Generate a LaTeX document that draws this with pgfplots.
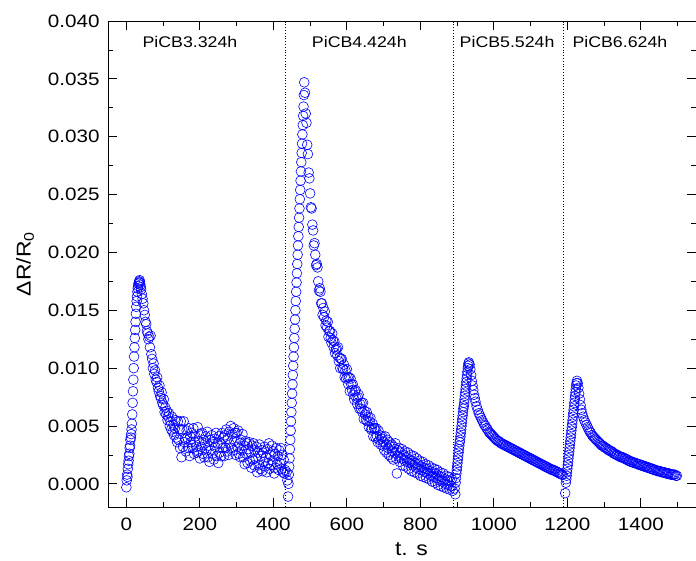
\documentclass[border=0pt]{standalone}
\usepackage{fontspec}
\setmainfont{Liberation Sans}[FakeStretch=1.15]
\usepackage{pgfplots}
\pgfplotsset{compat=1.18}
\usetikzlibrary{calc}
\begin{document}
\begin{tikzpicture}
\begin{axis}[
 scale only axis, width=588bp, height=486bp,
 xmin=-50, xmax=1550, ymin=-0.002, ymax=0.040,
 xtick={0,200,400,600,800,1000,1200,1400},
 minor xtick={100,300,500,700,900,1100,1300,1500},
 ytick={0,0.005,0.010,0.015,0.020,0.025,0.030,0.035,0.040},
 minor ytick={0.0025,0.0075,0.0125,0.0175,0.0225,0.0275,0.0325,0.0375},
 tick align=inside,
 major tick length=9bp, minor tick length=5bp,
 tick style={black, line width=0.8bp},
 axis line style={line width=0.8bp},
 scaled y ticks=false,
 /pgf/number format/assume math mode=true,
 /pgf/number format/1000 sep={},
 yticklabel style={/pgf/number format/fixed, /pgf/number format/fixed zerofill, /pgf/number format/precision=3, xshift=-5bp},
 xticklabel style={yshift=-7bp},
 ticklabel style={font=\fontsize{18}{20}\selectfont},
 xlabel={t. s},
 ylabel={ΔR/R\textsubscript{0}},
 xlabel style={at={(axis description cs:0.516,-0.100)}, anchor=base, font=\fontsize{20}{24}\selectfont},
 ylabel style={at={(axis description cs:-0.141,0.5)}, anchor=center, font=\fontsize{20}{24}\selectfont},
 mystyle/.style={only marks, mark=o, color=blue, mark size=4.9bp, mark options={line width=0.6bp}},
]
\draw[black, line width=0.9bp, dash pattern=on 0.9bp off 1.9bp] (axis cs:433,-0.002) -- (axis cs:433,0.040);
\draw[black, line width=0.9bp, dash pattern=on 0.9bp off 1.9bp] (axis cs:890,-0.002) -- (axis cs:890,0.040);
\draw[black, line width=0.9bp, dash pattern=on 0.9bp off 1.9bp] (axis cs:1189,-0.002) -- (axis cs:1189,0.040);

\addplot[mystyle] table[row sep=\\] {
x y\\
0 -0.0003\\ 1 0.0003\\ 2 0.0008\\ 3 0.0006\\ 4 0.0013\\ 5 0.0017\\ 6 0.0020\\ 7 0.0024\\ 8 0.0026\\ 9 0.0031\\
10 0.0033\\ 11 0.0038\\ 12 0.0040\\ 13 0.0043\\ 14 0.0047\\ 15 0.0052\\ 16 0.0060\\ 17 0.0070\\ 18 0.0080\\ 19 0.0090\\
20 0.0100\\ 21 0.0110\\ 22 0.0118\\ 23 0.0126\\ 24 0.0133\\ 25 0.0140\\ 26 0.0147\\ 27 0.0153\\ 28 0.0158\\ 29 0.0162\\
30 0.0166\\ 31 0.0169\\ 32 0.0171\\ 33 0.0173\\ 34 0.0174\\ 35 0.0175\\ 36 0.0176\\ 37 0.0174\\ 38 0.0172\\ 39 0.0170\\
40 0.0168\\ 42 0.0164\\ 44 0.0160\\ 46 0.0156\\ 48 0.0150\\ 50 0.0146\\ 52 0.0140\\ 54 0.0138\\ 56 0.0132\\ 58 0.0130\\
60 0.0125\\ 62 0.0127\\ 64 0.0118\\ 66 0.0128\\ 68 0.0112\\ 70 0.0108\\ 72 0.0100\\ 74 0.0104\\ 76 0.0095\\ 78 0.0098\\
80 0.0090\\ 82 0.0088\\ 84 0.0092\\ 86 0.0083\\ 88 0.0080\\ 90 0.0085\\ 92 0.0076\\ 94 0.0074\\ 96 0.0079\\ 98 0.0070\\
100 0.0068\\ 102 0.0073\\ 104 0.0062\\ 106 0.0066\\ 108 0.0060\\ 110 0.0063\\ 112 0.0055\\ 114 0.0058\\ 116 0.0061\\ 118 0.0050\\
120 0.0054\\ 122 0.0047\\ 124 0.0058\\ 126 0.0045\\ 128 0.0051\\ 130 0.0042\\ 132 0.0048\\ 134 0.0055\\ 136 0.0040\\ 138 0.0036\\
140 0.0054\\ 142 0.0038\\ 144 0.0047\\ 146 0.0031\\ 148 0.0054\\ 150 0.0023\\ 152 0.0047\\ 154 0.0032\\ 156 0.0054\\ 158 0.0036\\
160 0.0039\\ 162 0.0028\\ 164 0.0046\\ 166 0.0040\\ 168 0.0031\\ 170 0.0048\\ 172 0.0024\\ 174 0.0041\\ 176 0.0036\\ 178 0.0044\\
180 0.0031\\ 182 0.0048\\ 184 0.0026\\ 186 0.0036\\ 188 0.0041\\ 190 0.0032\\ 192 0.0027\\ 194 0.0049\\ 196 0.0028\\ 198 0.0037\\
200 0.0022\\ 202 0.0043\\ 204 0.0032\\ 206 0.0044\\ 208 0.0026\\ 210 0.0038\\ 212 0.0023\\ 214 0.0035\\ 216 0.0041\\ 218 0.0029\\
220 0.0045\\ 222 0.0023\\ 224 0.0033\\ 226 0.0019\\ 228 0.0038\\ 230 0.0029\\ 232 0.0042\\ 234 0.0026\\ 236 0.0036\\ 238 0.0021\\
240 0.0039\\ 242 0.0032\\ 244 0.0044\\ 246 0.0024\\ 248 0.0035\\ 250 0.0018\\ 252 0.0041\\ 254 0.0027\\ 256 0.0035\\ 258 0.0024\\
260 0.0044\\ 262 0.0031\\ 264 0.0040\\ 266 0.0024\\ 268 0.0042\\ 270 0.0031\\ 272 0.0047\\ 274 0.0028\\ 276 0.0039\\ 278 0.0025\\
280 0.0045\\ 282 0.0034\\ 284 0.0050\\ 286 0.0031\\ 288 0.0043\\ 290 0.0029\\ 292 0.0048\\ 294 0.0037\\ 296 0.0044\\ 298 0.0025\\
300 0.0044\\ 302 0.0032\\ 304 0.0046\\ 306 0.0026\\ 308 0.0035\\ 310 0.0023\\ 312 0.0038\\ 314 0.0029\\ 316 0.0043\\ 318 0.0023\\
320 0.0033\\ 322 0.0017\\ 324 0.0037\\ 326 0.0026\\ 328 0.0035\\ 330 0.0018\\ 332 0.0030\\ 334 0.0036\\ 336 0.0020\\ 338 0.0027\\
340 0.0014\\ 342 0.0033\\ 344 0.0021\\ 346 0.0035\\ 348 0.0016\\ 350 0.0029\\ 352 0.0022\\ 354 0.0032\\ 356 0.0010\\ 358 0.0027\\
360 0.0016\\ 362 0.0034\\ 364 0.0013\\ 366 0.0024\\ 368 0.0029\\ 370 0.0011\\ 372 0.0027\\ 374 0.0019\\ 376 0.0032\\ 378 0.0015\\
380 0.0023\\ 382 0.0010\\ 384 0.0030\\ 386 0.0018\\ 388 0.0035\\ 390 0.0013\\ 392 0.0025\\ 394 0.0016\\ 396 0.0033\\ 398 0.0020\\
400 0.0028\\ 402 0.0009\\ 404 0.0026\\ 406 0.0014\\ 408 0.0031\\ 410 0.0017\\ 412 0.0024\\ 414 0.0012\\ 416 0.0029\\ 418 0.0018\\
420 0.0031\\ 422 0.0013\\ 424 0.0025\\ 426 0.0010\\ 428 0.0021\\ 430 0.0009\\ 432 0.0012\\
};

\addplot[mystyle] table[row sep=\\] {
x y\\
436 0.0010\\ 438 0.0003\\ 440 -0.0011\\ 441 0.0000\\ 442 0.0008\\ 443 0.0015\\ 444 0.0022\\ 445 0.0030\\ 446 0.0038\\ 447 0.0046\\
448 0.0054\\ 449 0.0062\\ 450 0.0070\\ 451 0.0078\\ 452 0.0086\\ 453 0.0094\\ 454 0.0102\\ 455 0.0110\\ 456 0.0118\\ 457 0.0126\\
458 0.0134\\ 459 0.0142\\ 460 0.0150\\ 461 0.0158\\ 462 0.0166\\ 463 0.0174\\ 464 0.0182\\ 465 0.0190\\ 466 0.0198\\ 467 0.0206\\
468 0.0214\\ 469 0.0222\\ 470 0.0230\\ 471 0.0238\\ 472 0.0246\\ 473 0.0254\\ 474 0.0262\\ 475 0.0270\\ 476 0.0278\\ 477 0.0286\\
478 0.0294\\ 479 0.0302\\ 480 0.0310\\ 481 0.0318\\ 482 0.0326\\ 483 0.0336\\ 484 0.0347\\
486 0.0338\\ 488 0.0320\\ 490 0.0312\\ 492 0.0293\\ 494 0.0285\\ 496 0.0269\\ 498 0.0264\\ 500 0.0251\\ 502 0.0239\\ 504 0.0238\\
506 0.0224\\ 508 0.0219\\ 510 0.0206\\ 512 0.0208\\ 514 0.0198\\ 516 0.0189\\ 518 0.0190\\ 520 0.0187\\ 522 0.0175\\ 524 0.0167\\
526 0.0169\\ 528 0.0166\\ 530 0.0156\\ 532 0.0156\\ 534 0.0146\\ 536 0.0152\\ 538 0.0144\\ 540 0.0149\\ 542 0.0137\\ 544 0.0141\\
546 0.0135\\ 548 0.0140\\ 550 0.0127\\ 552 0.0132\\ 554 0.0132\\ 556 0.0126\\ 558 0.0122\\ 560 0.0130\\ 562 0.0124\\ 564 0.0118\\
566 0.0123\\ 568 0.0113\\ 570 0.0116\\ 572 0.0117\\ 574 0.0111\\ 576 0.0118\\ 578 0.0106\\ 580 0.0109\\ 582 0.0100\\ 584 0.0108\\
586 0.0108\\ 588 0.0100\\ 590 0.0099\\ 592 0.0103\\ 594 0.0092\\ 596 0.0098\\ 598 0.0091\\ 600 0.0099\\ 602 0.0092\\ 604 0.0086\\
606 0.0092\\ 608 0.0080\\ 610 0.0091\\ 612 0.0086\\ 614 0.0081\\ 616 0.0086\\ 618 0.0077\\ 620 0.0073\\ 622 0.0080\\ 624 0.0081\\
626 0.0074\\ 628 0.0069\\ 630 0.0075\\ 632 0.0077\\ 634 0.0065\\ 636 0.0069\\ 638 0.0065\\ 640 0.0070\\ 642 0.0062\\ 644 0.0070\\
646 0.0056\\ 648 0.0063\\ 650 0.0060\\ 652 0.0055\\ 654 0.0062\\ 656 0.0054\\ 658 0.0058\\ 660 0.0049\\ 662 0.0054\\ 664 0.0057\\
666 0.0047\\ 668 0.0048\\ 670 0.0052\\ 672 0.0041\\ 674 0.0048\\ 676 0.0048\\ 678 0.0040\\ 680 0.0048\\ 682 0.0041\\ 684 0.0036\\
686 0.0046\\ 688 0.0038\\ 690 0.0042\\ 692 0.0034\\ 694 0.0039\\ 696 0.0041\\ 698 0.0033\\ 700 0.0036\\
702 0.0029\\ 704 0.0041\\ 706 0.0034\\ 708 0.0027\\ 710 0.0038\\ 712 0.0031\\ 714 0.0025\\ 716 0.0036\\ 718 0.0033\\ 720 0.0023\\
722 0.0034\\ 724 0.0028\\ 726 0.0021\\ 728 0.0032\\ 730 0.0027\\ 732 0.0035\\ 734 0.0022\\ 736 0.0009\\ 738 0.0029\\ 740 0.0024\\
742 0.0031\\ 744 0.0019\\ 746 0.0027\\ 748 0.0022\\ 750 0.0030\\ 752 0.0016\\ 754 0.0025\\ 756 0.0021\\ 758 0.0028\\ 760 0.0015\\
762 0.0023\\ 764 0.0019\\ 766 0.0027\\ 768 0.0013\\ 770 0.0021\\ 772 0.0018\\ 774 0.0025\\ 776 0.0011\\ 778 0.0020\\ 780 0.0016\\
782 0.0024\\ 784 0.0010\\ 786 0.0018\\ 788 0.0014\\ 790 0.0022\\ 792 0.0009\\ 794 0.0017\\ 796 0.0013\\ 798 0.0020\\ 800 0.0007\\
802 0.0015\\ 804 0.0012\\ 806 0.0019\\ 808 0.0006\\ 810 0.0014\\ 812 0.0010\\ 814 0.0017\\ 816 0.0005\\ 818 0.0013\\ 820 0.0009\\
822 0.0016\\ 824 0.0004\\ 826 0.0011\\ 828 0.0007\\ 830 0.0014\\ 832 0.0002\\ 834 0.0010\\ 836 0.0006\\ 838 0.0013\\ 840 0.0001\\
842 0.0009\\ 844 0.0005\\ 846 0.0012\\ 848 -0.0001\\ 850 0.0007\\ 852 0.0003\\ 854 0.0010\\ 856 -0.0002\\ 858 0.0006\\ 860 0.0002\\
862 0.0009\\ 864 -0.0003\\ 866 0.0004\\ 868 0.0000\\ 870 0.0007\\ 872 -0.0004\\ 874 0.0003\\ 876 -0.0001\\ 878 0.0006\\ 880 -0.0005\\
882 0.0002\\ 884 -0.0002\\ 886 0.0004\\ 888 -0.0006\\
};

\addplot[mystyle] table[row sep=\\] {
x y\\
893 -0.0004\\ 895 -0.0009\\ 896 0.0001\\ 897 0.0005\\ 898 0.0009\\ 899 0.0012\\ 900 0.0015\\ 901 0.0018\\ 902 0.0021\\ 903 0.0024\\
904 0.0027\\ 905 0.0030\\ 906 0.0033\\ 907 0.0036\\ 908 0.0038\\ 909 0.0041\\ 910 0.0044\\ 911 0.0047\\ 912 0.0050\\ 913 0.0053\\
914 0.0056\\ 915 0.0059\\ 916 0.0062\\ 917 0.0065\\ 918 0.0067\\ 919 0.0070\\ 920 0.0073\\ 921 0.0076\\ 922 0.0079\\ 923 0.0082\\
924 0.0085\\ 925 0.0088\\ 926 0.0091\\ 927 0.0094\\ 928 0.0097\\ 929 0.0100\\ 930 0.0102\\ 931 0.0104\\ 932 0.0105\\
934 0.0103\\ 936 0.0099\\ 938 0.0094\\ 940 0.0089\\ 942 0.0085\\ 944 0.0081\\ 946 0.0077\\ 948 0.0074\\ 950 0.0071\\
953 0.0067\\ 956 0.0064\\ 959 0.0061\\ 962 0.0059\\ 965 0.0057\\ 968 0.0055\\ 971 0.0053\\ 974 0.0051\\ 977 0.0050\\ 980 0.0048\\
983 0.0047\\ 986 0.0045\\ 989 0.0044\\ 992 0.0043\\ 995 0.0042\\ 998 0.0041\\ 1001 0.0040\\ 1004 0.0039\\ 1007 0.0038\\ 1010 0.0037\\
1013 0.0037\\ 1016 0.0036\\ 1019 0.0035\\ 1022 0.0035\\ 1025 0.0034\\ 1028 0.0034\\ 1031 0.0033\\ 1034 0.0033\\ 1037 0.0032\\ 1040 0.0032\\
1043 0.0031\\ 1046 0.0031\\ 1049 0.0030\\ 1052 0.0030\\ 1055 0.0029\\ 1058 0.0029\\ 1061 0.0028\\ 1064 0.0028\\ 1067 0.0027\\ 1070 0.0027\\
1073 0.0026\\ 1076 0.0026\\ 1079 0.0025\\ 1082 0.0025\\ 1085 0.0024\\ 1088 0.0024\\ 1091 0.0023\\ 1094 0.0023\\ 1097 0.0022\\ 1100 0.0022\\
1103 0.0021\\ 1106 0.0021\\ 1109 0.0020\\ 1112 0.0020\\ 1115 0.0019\\ 1118 0.0019\\ 1121 0.0018\\ 1124 0.0018\\ 1127 0.0017\\ 1130 0.0017\\
1133 0.0016\\ 1136 0.0016\\ 1139 0.0015\\ 1142 0.0015\\ 1145 0.0014\\ 1148 0.0014\\ 1151 0.0013\\ 1154 0.0013\\ 1157 0.0012\\ 1160 0.0012\\
1163 0.0012\\ 1166 0.0011\\ 1169 0.0011\\ 1172 0.0010\\ 1175 0.0010\\ 1178 0.0009\\ 1181 0.0009\\ 1184 0.0008\\ 1187 0.0008\\
};

\addplot[mystyle] table[row sep=\\] {
x y\\
1194 -0.0008\\ 1196 0.0001\\ 1197 0.0004\\ 1198 0.0007\\ 1199 0.0010\\ 1200 0.0013\\ 1201 0.0016\\ 1202 0.0019\\ 1203 0.0022\\ 1204 0.0025\\
1205 0.0028\\ 1206 0.0031\\ 1207 0.0034\\ 1208 0.0037\\ 1209 0.0040\\ 1210 0.0043\\ 1211 0.0046\\ 1212 0.0049\\ 1213 0.0052\\ 1214 0.0055\\
1215 0.0058\\ 1216 0.0061\\ 1217 0.0064\\ 1218 0.0067\\ 1219 0.0070\\ 1220 0.0073\\ 1221 0.0076\\ 1222 0.0079\\ 1223 0.0082\\ 1224 0.0085\\
1225 0.0087\\ 1226 0.0089\\ 1228 0.0087\\ 1230 0.0083\\ 1232 0.0078\\ 1234 0.0073\\ 1236 0.0068\\ 1238 0.0064\\ 1240 0.0061\\
1243 0.0058\\ 1246 0.0055\\ 1249 0.0053\\ 1252 0.0051\\ 1255 0.0049\\ 1258 0.0047\\ 1261 0.0045\\ 1264 0.0044\\ 1267 0.0042\\ 1270 0.0041\\
1273 0.0040\\ 1276 0.0039\\ 1279 0.0038\\ 1282 0.0037\\ 1285 0.0036\\ 1288 0.0035\\ 1291 0.0034\\ 1294 0.0033\\ 1297 0.0033\\ 1300 0.0032\\
1303 0.0031\\ 1306 0.0031\\ 1309 0.0030\\ 1312 0.0029\\ 1315 0.0029\\ 1318 0.0028\\ 1321 0.0028\\ 1324 0.0027\\ 1327 0.0026\\ 1330 0.0026\\
1333 0.0025\\ 1336 0.0025\\ 1339 0.0024\\ 1342 0.0024\\ 1345 0.0023\\ 1348 0.0023\\ 1351 0.0023\\ 1354 0.0022\\ 1357 0.0022\\ 1360 0.0021\\
1363 0.0021\\ 1366 0.0020\\ 1369 0.0020\\ 1372 0.0019\\ 1375 0.0019\\ 1378 0.0019\\ 1381 0.0018\\ 1384 0.0018\\ 1387 0.0018\\ 1390 0.0017\\
1393 0.0017\\ 1396 0.0017\\ 1399 0.0016\\ 1402 0.0016\\ 1405 0.0016\\ 1408 0.0015\\ 1411 0.0015\\ 1414 0.0015\\ 1417 0.0014\\ 1420 0.0014\\
1423 0.0014\\ 1426 0.0013\\ 1429 0.0013\\ 1432 0.0013\\ 1435 0.0012\\ 1438 0.0012\\ 1441 0.0012\\ 1444 0.0011\\ 1447 0.0011\\ 1450 0.0011\\
1453 0.0011\\ 1456 0.0010\\ 1459 0.0010\\ 1462 0.0010\\ 1465 0.0010\\ 1468 0.0009\\ 1471 0.0009\\ 1474 0.0009\\ 1477 0.0009\\ 1480 0.0008\\
1483 0.0008\\ 1486 0.0008\\ 1489 0.0008\\ 1492 0.0008\\ 1495 0.0007\\ 1498 0.0007\\
};

\node[anchor=base, font=\fontsize{15.5}{18}\selectfont] at (axis cs:173,0.0377) {PiCB3.324h};
\node[anchor=base, font=\fontsize{15.5}{18}\selectfont] at (axis cs:634,0.0377) {PiCB4.424h};
\node[anchor=base, font=\fontsize{15.5}{18}\selectfont] at (axis cs:1036,0.0377) {PiCB5.524h};
\node[anchor=base, font=\fontsize{15.5}{18}\selectfont] at (axis cs:1343,0.0377) {PiCB6.624h};
\end{axis}
\pgfresetboundingbox
\path[use as bounding box] ($(current axis.south west)+(-108bp,-54bp)$) rectangle ($(current axis.north east)+(0bp,21bp)$);
\end{tikzpicture}
\end{document}
